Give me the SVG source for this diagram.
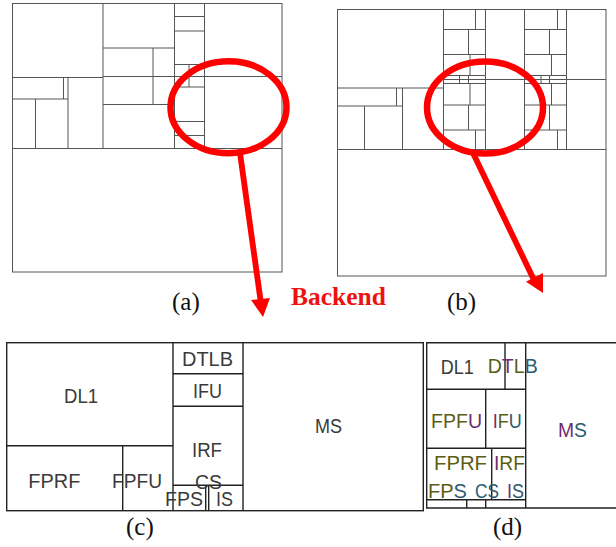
<svg xmlns="http://www.w3.org/2000/svg" width="616" height="547" viewBox="0 0 616 547">
<style>
.thin{fill:none;stroke:#555;stroke-width:1}
.thick{fill:none;stroke:#222;stroke-width:1.4}
.lab{font-family:"Liberation Sans",Arial,sans-serif;font-size:20px;fill:#3a3a3a}
.o{fill:#5c5c14}
.p{fill:#6e2c70}
.t{fill:#2c5c70}
.cap{font-family:"Liberation Serif","Times New Roman",serif;font-size:25px;fill:#111}
.ring{fill:none;stroke:#f00;stroke-width:6.5}
.shaft{stroke:#f00;stroke-width:5.8;fill:none}
.head{fill:#f00}
</style>
<rect width="616" height="547" fill="#fff"/>
<g id="panel-a">
<rect class="thin" x="12.5" y="3.5" width="269.5" height="268.5"/>
<path class="thin" d="M12.5 148.5H282M103 3.5V148.5M12.5 77.5H103M68 77.5V148.5M63.5 77.5V99M12.5 99H68M35.5 99V148.5M103 76.5H282M174.5 3.5V148.5M204.5 3.5V148.5M103 48H174.5M153 48V104.5M103 104.5H174.5M174.5 16.5H204.5M174.5 31H204.5M174.5 64.5H204.5M174.5 87H204.5M174.5 121.5H204.5M174.5 135.5H204.5M189 64.5V87"/>
</g>
<g id="panel-b">
<rect class="thin" x="337.5" y="9.5" width="268.5" height="266.5"/>
<path class="thin" d="M337.5 149.5H606M443.5 9.5V149.5M337.5 88H443.5M402.5 88V149.5M396.5 88V106M337.5 106H402.5M364.5 106V149.5M443.5 79.5H606M485.5 9.5V149.5M524.5 9.5V149.5M566.5 9.5V149.5"/>
<path class="thin" d="M443.5 29.5H485.5M443.5 54.5H485.5M443.5 75.5H485.5M443.5 83.5H485.5M443.5 105H485.5M443.5 130H485.5M475.5 9.5V29.5M468.5 29.5V54.5M470 54.5V75.5M459.5 75.5V83.5M468.5 75.5V83.5M470 83.5V105M468.5 105V130M475.5 130V149.5"/>
<path class="thin" d="M524.5 29.5H566.5M524.5 54.5H566.5M524.5 75.5H566.5M524.5 83.5H566.5M524.5 105H566.5M524.5 130H566.5M557.5 9.5V29.5M549.5 29.5V54.5M551.5 54.5V75.5M541 75.5V83.5M549.5 75.5V83.5M551.5 83.5V105M549.5 105V130M557.5 130V149.5"/>
</g>
<g id="panel-c">
<rect class="thick" x="6.7" y="342.7" width="416.6" height="168"/>
<path class="thick" d="M173 342.7V510.7M243 342.7V510.7M6.7 445.7H173M122.7 445.7V510.7M173 373.7H243M173 406.3H243M173 485.3H243M205.7 485.3V510.7M208.7 485.3V510.7"/>
<text class="lab" x="64" y="403" textLength="34" lengthAdjust="spacingAndGlyphs">DL1</text>
<text class="lab" x="28.3" y="488.3" textLength="52" lengthAdjust="spacingAndGlyphs">FPRF</text>
<text class="lab" x="112" y="488.3" textLength="50" lengthAdjust="spacingAndGlyphs">FPFU</text>
<text class="lab" x="182" y="366" textLength="51" lengthAdjust="spacingAndGlyphs">DTLB</text>
<text class="lab" x="193" y="397.7" textLength="29" lengthAdjust="spacingAndGlyphs">IFU</text>
<text class="lab" x="192" y="457" textLength="30" lengthAdjust="spacingAndGlyphs">IRF</text>
<text class="lab" x="195" y="489" textLength="27" lengthAdjust="spacingAndGlyphs">CS</text>
<text class="lab" x="165" y="506" textLength="38" lengthAdjust="spacingAndGlyphs">FPS</text>
<text class="lab" x="216" y="506" textLength="17" lengthAdjust="spacingAndGlyphs">IS</text>
<text class="lab" x="315" y="433" textLength="27" lengthAdjust="spacingAndGlyphs">MS</text>
</g>
<g id="panel-d">
<path class="thick" d="M616 342.7H426.7V508H616M525.7 342.7V508M426.7 389.3H525.7M505 342.7V389.3M426.7 448.3H525.7M485.7 389.3V448.3M491.7 448.3V499.7M426.7 499.7H525.7M466.7 499.7V508M485.7 499.7V508"/>
<text class="lab" x="440.7" y="374.3" textLength="33" lengthAdjust="spacingAndGlyphs">DL1</text>
<text class="lab" x="487.7" y="372.7" textLength="50" lengthAdjust="spacingAndGlyphs"><tspan class="o">D</tspan><tspan class="p">T</tspan><tspan class="o">L</tspan><tspan class="t">B</tspan></text>
<text class="lab" x="431" y="427.7" textLength="51" lengthAdjust="spacingAndGlyphs"><tspan class="o">FPF</tspan><tspan class="p">U</tspan></text>
<text class="lab" x="492.7" y="427.7" textLength="29" lengthAdjust="spacingAndGlyphs"><tspan class="p">I</tspan><tspan class="o">F</tspan><tspan class="t">U</tspan></text>
<text class="lab" x="558" y="436.7" textLength="29" lengthAdjust="spacingAndGlyphs"><tspan class="p">M</tspan><tspan class="t">S</tspan></text>
<text class="lab" x="434" y="470" textLength="53" lengthAdjust="spacingAndGlyphs"><tspan class="o">FPRF</tspan></text>
<text class="lab" x="494" y="470" textLength="31" lengthAdjust="spacingAndGlyphs"><tspan class="p">I</tspan><tspan class="o">RF</tspan></text>
<text class="lab" x="428" y="498" textLength="39" lengthAdjust="spacingAndGlyphs"><tspan class="o">FP</tspan><tspan class="t">S</tspan></text>
<text class="lab" x="475" y="498" textLength="24" lengthAdjust="spacingAndGlyphs"><tspan class="t">CS</tspan></text>
<text class="lab" x="507" y="498" textLength="17" lengthAdjust="spacingAndGlyphs"><tspan class="p">I</tspan><tspan class="t">S</tspan></text>
</g>
<g id="captions">
<text class="cap" x="172" y="310">(a)</text>
<text class="cap" x="447" y="310">(b)</text>
<text class="cap" x="126" y="535">(c)</text>
<text class="cap" x="493" y="535">(d)</text>
</g>
<g id="connectors">
<ellipse class="ring" cx="228.5" cy="107.2" rx="58" ry="46"/>
<ellipse class="ring" cx="485" cy="107.5" rx="58" ry="46"/>
<path class="shaft" d="M240 153L260.5 300"/>
<polygon class="head" points="251,300 270,298 263,317"/>
<path class="shaft" d="M473 153L534 280"/>
<polygon class="head" points="526,281.7 543,273 543,293"/>
<text x="291" y="304.7" font-family="'Liberation Serif','Times New Roman',serif" font-weight="700" font-size="25.5" fill="#f01010">Backend</text>
</g>
</svg>
